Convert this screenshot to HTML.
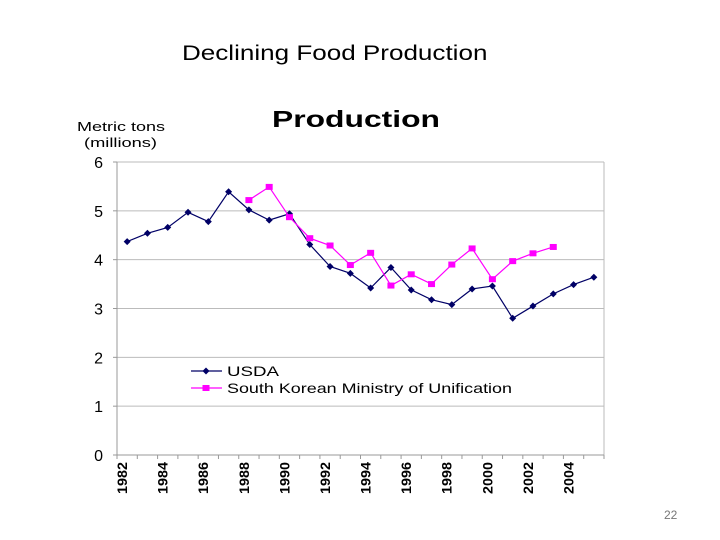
<!DOCTYPE html>
<html><head><meta charset="utf-8"><style>
body{margin:0;background:#fff;font-family:"Liberation Sans",sans-serif}
#wrap{position:relative;width:720px;height:540px;overflow:hidden}
</style></head><body>
<div id="wrap">
<div style="position:absolute;left:182px;top:42px;font-size:21px;color:#000;transform:scaleX(1.24);transform-origin:0 0;white-space:nowrap">Declining Food Production</div>
<div style="position:absolute;left:664px;top:508px;font-size:12px;color:#777">22</div>
<svg id="chart" width="720" height="540" style="position:absolute;left:0;top:0"></svg>
</div>
<script>
const years=[1982,1983,1984,1985,1986,1987,1988,1989,1990,1991,1992,1993,1994,1995,1996,1997,1998,1999,2000,2001,2002,2003,2004,2005];
const usda=[4.37,4.54,4.66,4.97,4.78,5.39,5.02,4.81,4.94,4.31,3.86,3.72,3.42,3.84,3.38,3.18,3.08,3.40,3.46,2.80,3.05,3.30,3.49,3.64];
const korea=[null,null,null,null,null,null,5.22,5.49,4.87,4.44,4.29,3.89,4.14,3.47,3.70,3.50,3.90,4.23,3.60,3.97,4.13,4.26,null,null];
const yTicks=[0,1,2,3,4,5,6];
const xLabels=[1982,1984,1986,1988,1990,1992,1994,1996,1998,2000,2002,2004];
const svg=document.getElementById('chart');const NS='http://www.w3.org/2000/svg';
const L=117,R=604,T=162,B=455;
const bw=(R-L)/years.length;
const X=i=>L+bw*(i+0.5);const Y=v=>B-(v/6)*(B-T);
function mk(t,a,p){const e=document.createElementNS(NS,t);for(const k in a)e.setAttribute(k,a[k]);(p||svg).appendChild(e);return e;}
let e;
e=mk('text',{x:272,y:127,'font-size':23,'font-weight':'bold',textLength:168,lengthAdjust:'spacingAndGlyphs'});e.textContent='Production';


e=mk('text',{x:77,y:131,'font-size':13,textLength:88,lengthAdjust:'spacingAndGlyphs'});e.textContent='Metric tons';


e=mk('text',{x:84,y:147,'font-size':13,textLength:73,lengthAdjust:'spacingAndGlyphs'});e.textContent='(millions)';


yTicks.forEach(v=>{
 if(v>0){e=mk('line',{x1:L,x2:R,y1:Y(v),y2:Y(v),stroke:'#bbb','stroke-width':1});
 
 }
 e=mk('line',{x1:L-4,x2:L,y1:Y(v),y2:Y(v),stroke:'#999'});
 e=mk('text',{x:103,y:Y(v)+6,'font-size':16,'text-anchor':'end'});e.textContent=v;
 
 
});
mk('line',{x1:R,x2:R,y1:T,y2:B,stroke:'#bbb'});
e=mk('line',{x1:L,x2:L,y1:T,y2:B,stroke:'#999'});


e=mk('line',{x1:L,x2:R,y1:B,y2:B,stroke:'#999'});


for(let i=0;i<=years.length;i++)mk('line',{x1:L+bw*i,x2:L+bw*i,y1:B,y2:B+4,stroke:'#999'});
xLabels.forEach(y=>{const i=years.indexOf(y);const x=X(i)-5;
 e=mk('text',{x:x,y:B+7,'font-size':14,'font-weight':'bold','text-anchor':'end',textLength:32,lengthAdjust:'spacingAndGlyphs',transform:`rotate(-90 ${x} ${B+7})`,dy:'0.35em'});e.textContent=y;
 
 
});
function series(vals,color,shape,name){
 let d='';vals.forEach((v,i)=>{if(v==null)return;d+=(d?'L':'M')+X(i)+' '+Y(v);});
 e=mk('path',{d:d,fill:'none',stroke:color,'stroke-width':1.2});
 
 
 vals.forEach((v,i)=>{if(v==null)return;const x=X(i),y=Y(v);
  if(shape==='d')e=mk('path',{d:`M${x} ${y-3.5}L${x+3.5} ${y}L${x} ${y+3.5}L${x-3.5} ${y}Z`,fill:color});
  else e=mk('rect',{x:x-3.5,y:y-3,width:7,height:6,fill:color});
  
  
 });
}
series(usda,'#000066','d','usda');
series(korea,'#ff00ff','s','korea');
function leg(y,color,shape,label,name,w){
 const g=mk('g',{});
 
 
 mk('line',{x1:191,x2:222,y1:y,y2:y,stroke:color,'stroke-width':1.2},g);
 if(shape==='d')mk('path',{d:`M206 ${y-3.5}L209.5 ${y}L206 ${y+3.5}L202.5 ${y}Z`,fill:color},g);
 else mk('rect',{x:202.5,y:y-3,width:7,height:6,fill:color},g);
 const t=mk('text',{x:227,y:y+5,'font-size':14,textLength:w,lengthAdjust:'spacingAndGlyphs'},g);t.textContent=label;
}
leg(371,'#000066','d','USDA','legend-usda',52);
leg(388,'#ff00ff','s','South Korean Ministry of Unification','legend-korea',285);
</script>
</body></html>
